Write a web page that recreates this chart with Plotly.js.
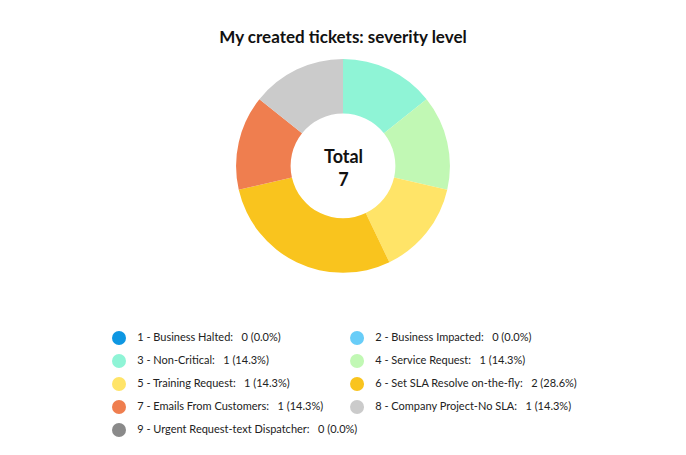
<!DOCTYPE html>
<html>
<head>
<meta charset="utf-8">
<script src="https://cdn.plot.ly/plotly-3.0.1.min.js"></script>
<style>
  body { margin: 0; background: #fff; }
  #chart { width: 686px; height: 455px; }
</style>
</head>
<body>
<div id="chart"></div>
<script>
// severity levels and ticket counts
var severityLabels = [
  "1 - Business Halted", "2 - Business Impacted", "3 - Non-Critical",
  "4 - Service Request", "5 - Training Request", "6 - Set SLA Resolve on-the-fly",
  "7 - Emails From Customers", "8 - Company Project-No SLA", "9 - Urgent Request-text Dispatcher"
];
var ticketCounts = [0, 0, 1, 1, 1, 2, 1, 1, 0];
var severityColors = [
  "#0e97e2", "#68cdf8", "#8ff4d6", "#c1f8b4", "#ffe468",
  "#f9c41e", "#ef7e4f", "#cbcbcb", "#8a8a8a"
];

var FONT = "Lato, 'Open Sans', sans-serif";
var total = ticketCounts.reduce(function (a, b) { return a + b; }, 0);
var pieBottom = 0.46;

var pie = {
  type: "pie",
  labels: severityLabels,
  values: ticketCounts,
  hole: 0.49,
  sort: false,
  direction: "clockwise",
  rotation: 0,
  textinfo: "none",
  marker: { colors: severityColors, line: { width: 0 } },
  domain: { x: [0, 1], y: [pieBottom, 1] },
  showlegend: false,
  hoverinfo: "label+value+percent"
};

// legend drawn as a two-column grid of circle markers with labels
var legendText = severityLabels.map(function (l, i) {
  var pct = (total ? ticketCounts[i] / total * 100 : 0).toFixed(1);
  return "\u00a0\u00a0\u00a0" + l + ":\u00a0\u00a0 " + ticketCounts[i] + " (" + pct + "%)";
});
var legend = {
  type: "scatter",
  mode: "markers+text",
  x: severityLabels.map(function (l, i) { return i % 2; }),
  y: severityLabels.map(function (l, i) { return Math.floor(i / 2); }),
  text: legendText,
  textposition: "middle right",
  textfont: { family: FONT, size: 11, color: "#222" },
  marker: { symbol: "circle", size: 14, color: severityColors },
  hoverinfo: "skip",
  showlegend: false,
  cliponaxis: false
};

var layout = {
  width: 686,
  height: 455,
  margin: { l: 0, r: 0, t: 59, b: 0 },
  paper_bgcolor: "#fff",
  plot_bgcolor: "rgba(0,0,0,0)",
  font: { family: FONT, color: "#111" },
  title: {
    text: "<b>My created tickets: severity level</b>",
    font: { family: FONT, size: 17, color: "#111" },
    x: 0.5, xanchor: "center",
    y: 1 - 37 / 455, yanchor: "middle"
  },
  xaxis: { visible: false, range: [-0.5, 2.382], fixedrange: true },
  yaxis: { visible: false, range: [5.087, -12.13], fixedrange: true },
  annotations: [{
    text: "<b>Total<br>" + total + "</b>",
    xref: "paper", yref: "paper",
    x: 0.5, y: (pieBottom + 1) / 2 - 0.005,
    xanchor: "center", yanchor: "middle",
    showarrow: false,
    font: { family: FONT, size: 18, color: "#111" }
  }],
  showlegend: false
};

Plotly.newPlot("chart", [pie, legend], layout, { displayModeBar: false, staticPlot: true });
</script>
</body>
</html>
